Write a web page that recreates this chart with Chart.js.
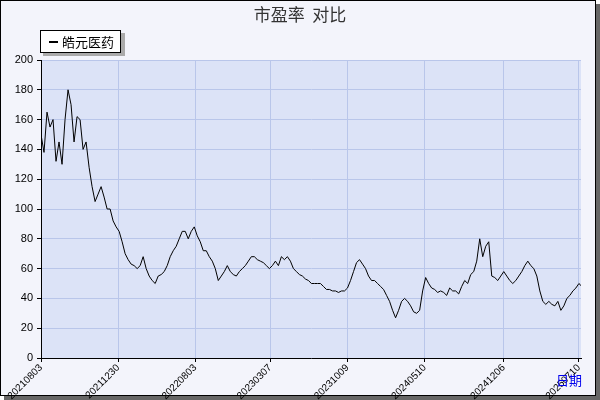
<!DOCTYPE html>
<html><head><meta charset="utf-8">
<script src="https://cdn.jsdelivr.net/npm/chart.js@4"></script>
<style>html,body{margin:0;padding:0;background:#fff}#w{width:600px;height:400px;position:relative}</style>
</head><body><div id="w"><canvas id="c" width="600" height="400"></canvas></div>
<script>
const seriesName = "皓元医药";
const peValues = [150,138,165,155,160,132,145,130,160,180,170,145,162,160,140,145,128,115,105,110,115,108,100,100,92,88,85,78,70,66,63,62,60,62,68,60,55,52,50,55,56,58,62,68,72,75,80,85,85,80,85,88,82,78,72,72,68,65,60,52,55,58,62,58,56,55,58,60,62,65,68,68,66,65,64,62,60,62,65,62,68,66,68,65,60,58,56,55,53,52,50,50,50,50,48,46,46,45,45,44,45,45,47,52,58,64,66,63,60,55,52,52,50,48,46,42,38,32,27,32,38,40,38,35,31,30,32,45,54,50,47,46,44,45,44,42,47,45,45,43,48,52,50,56,58,65,80,68,75,78,55,54,52,55,58,55,52,50,52,55,58,62,65,62,60,55,45,38,36,38,36,35,38,32,35,40,42,45,47,50,48];
const tickLabels = ["20210803","20211230","20220803","20230307","20231009","20240510","20241206","20250710"];
const tickIndex = [0,25.7,51.3,76.3,102,127.7,154,179];
const yTicks = [0,20,40,60,80,100,120,140,160,180,200];

const pts = peValues.map((v,i)=>({x:i,y:v}));
const deco = {
  id:'deco',
  beforeDraw(ch){
    const c=ch.ctx, a=ch.chartArea;
    c.save();
    c.fillStyle='#666'; c.fillRect(4,4,596,396);
    c.fillStyle='#f3f4fb'; c.fillRect(0,0,596,396);
    c.strokeStyle='#000'; c.lineWidth=1; c.strokeRect(0.5,0.5,595,395);
    c.fillStyle='#dce3f7'; c.fillRect(a.left,a.top,a.right-a.left,a.bottom-a.top);
    c.restore();
  },
  afterDraw(ch){
    const c=ch.ctx;
    c.save();
    c.fillStyle='#333'; c.font='17px "Noto Sans CJK SC"'; c.textAlign='center'; c.textBaseline='middle';
    c.fillText('市盈率  对比',300,15);
    c.fillStyle='#aaa'; c.fillRect(43,33,82,23);
    c.fillStyle='#fff'; c.fillRect(40,30,80,22);
    c.strokeStyle='#000'; c.strokeRect(40.5,30.5,80,22);
    c.fillStyle='#000'; c.fillRect(49,41,9,2);
    c.font='13px "Noto Sans CJK SC"'; c.textAlign='left';
    c.fillText(seriesName,62,42);
    c.fillStyle='#0000ee'; c.font='13px "Noto Sans CJK SC"';
    c.fillText('日期',556,380);
    c.restore();
  }
};
new Chart(document.getElementById('c'),{
  type:'line',
  data:{datasets:[{label:seriesName,data:pts,borderColor:'#000',borderWidth:1,pointRadius:0,tension:0,fill:false}]},
  options:{
    responsive:false,animation:false,
    layout:{padding:{top:60,right:19,left:0,bottom:0}},
    plugins:{legend:{display:false},title:{display:false},tooltip:{enabled:false}},
    scales:{
      x:{type:'linear',min:0,max:179.7,
        afterFit(s){s.height=42;},
        afterBuildTicks(s){s.ticks=tickIndex.map(v=>({value:v}));},
        ticks:{autoSkip:false,minRotation:45,maxRotation:45,color:'#000',font:{size:10},padding:0,
          callback:(v,i)=>tickLabels[i]},
        grid:{color:'#b9c6ea',tickColor:'#000',tickLength:4,drawTicks:true},
        border:{color:'#000',width:1}},
      y:{min:0,max:200,
        afterFit(s){s.width=41;},
        afterBuildTicks(s){s.ticks=yTicks.map(v=>({value:v}));},
        ticks:{color:'#000',font:{size:11},padding:4},
        grid:{color:'#b9c6ea',tickColor:'#000',tickLength:4},
        border:{color:'#000',width:1}}
    }
  },
  plugins:[deco]
});
</script></body></html>
